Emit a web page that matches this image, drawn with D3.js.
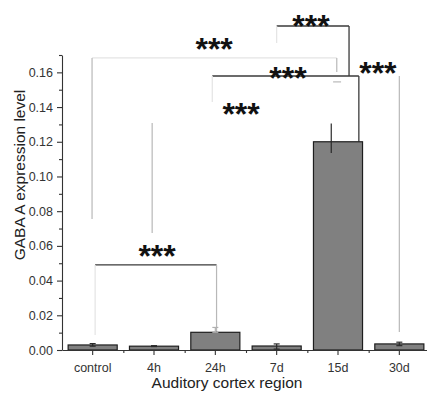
<!DOCTYPE html>
<html>
<head>
<meta charset="utf-8">
<script src="https://cdn.jsdelivr.net/npm/d3@7/dist/d3.min.js"></script>
<style>
  html, body { margin: 0; padding: 0; background: #fff; }
  svg { display: block; font-family: "Liberation Sans", Arial, sans-serif; }
</style>
</head>
<body>
<svg id="chart" width="427" height="395"></svg>
<script>
// Time points after exposure
const categories = ["control", "4h", "24h", "7d", "15d", "30d"];
// Mean GABA A expression per group
const values = [0.0029, 0.0022, 0.0102, 0.0023, 0.1200, 0.0035];
// Error bar ends (low, high)
const errLow  = [0.0022, 0.0020, 0.0102, 0.0005, 0.1135, 0.0025];
const errHigh = [0.0037, 0.0025, 0.0130, 0.0035, 0.1305, 0.0045];

// Y axis ticks
const yMajorTicks = [0.00, 0.02, 0.04, 0.06, 0.08, 0.10, 0.12, 0.14, 0.16];
const yMinorTicks = [0.01, 0.03, 0.05, 0.07, 0.09, 0.11, 0.13, 0.15, 0.17];

// Significance connectors: [xFrom, yFrom, xTo, yTo, tone] in (group index, value) units
const connectors = [
  [0.04, 0.0490, 2.02, 0.0490, "dark"],
  [0.04, 0.0490, 0.04, 0.0086, "faint"],
  [2.02, 0.0490, 2.02, 0.0075, "light"],
  [-0.01, 0.1683, 3.98, 0.1683, "faint"],
  [-0.01, 0.1683, -0.01, 0.0755, "light"],
  [3.98, 0.1683, 3.98, 0.1602, "light"],
  [3.00, 0.1867, 4.18, 0.1867, "dark"],
  [3.00, 0.1867, 3.00, 0.1769, "faint"],
  [4.18, 0.1867, 4.18, 0.1579, "dark"],
  [1.95, 0.1579, 4.34, 0.1579, "dark"],
  [1.95, 0.1579, 1.95, 0.1429, "faint"],
  [4.34, 0.1579, 4.34, 0.1200, "dark"],
  [0.97, 0.1308, 0.97, 0.0674, "light"],
  [5.00, 0.1579, 5.00, 0.0104, "light"],
  [3.92, 0.1545, 4.05, 0.1545, "light"]
];
// Significance markers: [group index, value] of each label centre
const starPos = [
  [1.05, 0.0576],
  [1.98, 0.1769],
  [3.56, 0.1902],
  [3.185, 0.1602],
  [2.42, 0.1395],
  [4.65, 0.1631]
];
const starText = "***";

const svg = d3.select("#chart");
const plotLeft = 62, plotRight = 430, plotBottom = 350, plotTop = 55;

const x = d3.scaleBand().domain(categories).range([plotLeft, plotRight]).padding(0);
const xi = d3.scaleLinear().domain([-0.5, categories.length - 0.5]).range([plotLeft, plotRight]);
const y = d3.scaleLinear().domain([0, 0.17]).range([plotBottom, plotTop]);

const toneColor = { dark: "#3a3a3a", light: "#b8b8b8", faint: "#e4e4e4" };

// connectors behind the bars
svg.append("g").selectAll("line").data(connectors).join("line")
  .attr("x1", d => xi(d[0])).attr("y1", d => y(d[1]))
  .attr("x2", d => xi(d[2])).attr("y2", d => y(d[3]))
  .attr("stroke", d => toneColor[d[4]])
  .attr("stroke-width", d => d[4] === "dark" ? 1.3 : 1.2);

// bars
const bw = x.bandwidth() * 0.8;
svg.append("g").selectAll("rect").data(values).join("rect")
  .attr("x", (d, i) => x(categories[i]) + (x.bandwidth() - bw) / 2)
  .attr("y", d => y(d))
  .attr("width", bw)
  .attr("height", d => plotBottom - y(d))
  .attr("fill", "#808080")
  .attr("stroke", "#1e1e1e")
  .attr("stroke-width", 1.2);

// error bars
const errShift = [0, 0, 0, 0, -0.11, 0];
const eg = svg.append("g").attr("stroke-width", 1.2);
categories.forEach((c, i) => {
  const cx = xi(i + errShift[i]);
  const col = i === 2 ? "#b0b0b0" : "#2a2a2a";
  eg.append("line").attr("x1", cx).attr("x2", cx)
    .attr("y1", y(errLow[i])).attr("y2", y(errHigh[i])).attr("stroke", col);
  if (i !== 4) {
    [errLow[i], errHigh[i]].forEach(v => {
      eg.append("line").attr("x1", cx - 3).attr("x2", cx + 3)
        .attr("y1", y(v)).attr("y2", y(v)).attr("stroke", col);
    });
  }
});

// y axis
const yAxis = svg.append("g").attr("transform", `translate(${plotLeft},0)`)
  .call(d3.axisLeft(y).tickValues(yMajorTicks).tickFormat(d3.format(".2f")).tickSize(5).tickSizeOuter(0));
svg.append("g").attr("transform", `translate(${plotLeft},0)`)
  .call(d3.axisLeft(y).tickValues(yMinorTicks).tickFormat("").tickSize(3).tickSizeOuter(0))
  .select(".domain").remove();
yAxis.selectAll("text").attr("font-size", 12.5).attr("fill", "#333").attr("dx", "-1");

// x axis
const xAxis = svg.append("g").attr("transform", `translate(0,${plotBottom})`)
  .call(d3.axisBottom(x).tickSize(5).tickSizeOuter(0));
xAxis.selectAll("text").attr("font-size", 12.5).attr("fill", "#333").attr("dy", "1.1em");
svg.append("g").attr("transform", `translate(0,${plotBottom})`)
  .call(d3.axisBottom(xi).tickValues(d3.range(0.5, categories.length - 0.5, 1)).tickFormat("").tickSize(3).tickSizeOuter(0))
  .select(".domain").remove();

svg.selectAll(".domain, .tick line").attr("stroke", "#333").attr("stroke-width", 1.1);

// axis titles
svg.append("text").attr("x", 227).attr("y", 388).attr("text-anchor", "middle")
  .attr("font-size", 15.5).attr("fill", "#222").text("Auditory cortex region");
svg.append("text").attr("transform", "translate(25,175) rotate(-90)").attr("text-anchor", "middle")
  .attr("font-size", 15.5).attr("fill", "#222").text("GABA A expression level");

// significance markers
svg.append("g").selectAll("text").data(starPos).join("text")
  .attr("x", d => xi(d[0]))
  .attr("y", d => y(d[1]) + 17)
  .attr("text-anchor", "middle")
  .attr("font-size", 32)
  .attr("font-weight", "bold")
  .attr("fill", "#111")
  .text(starText);
</script>
</body>
</html>
